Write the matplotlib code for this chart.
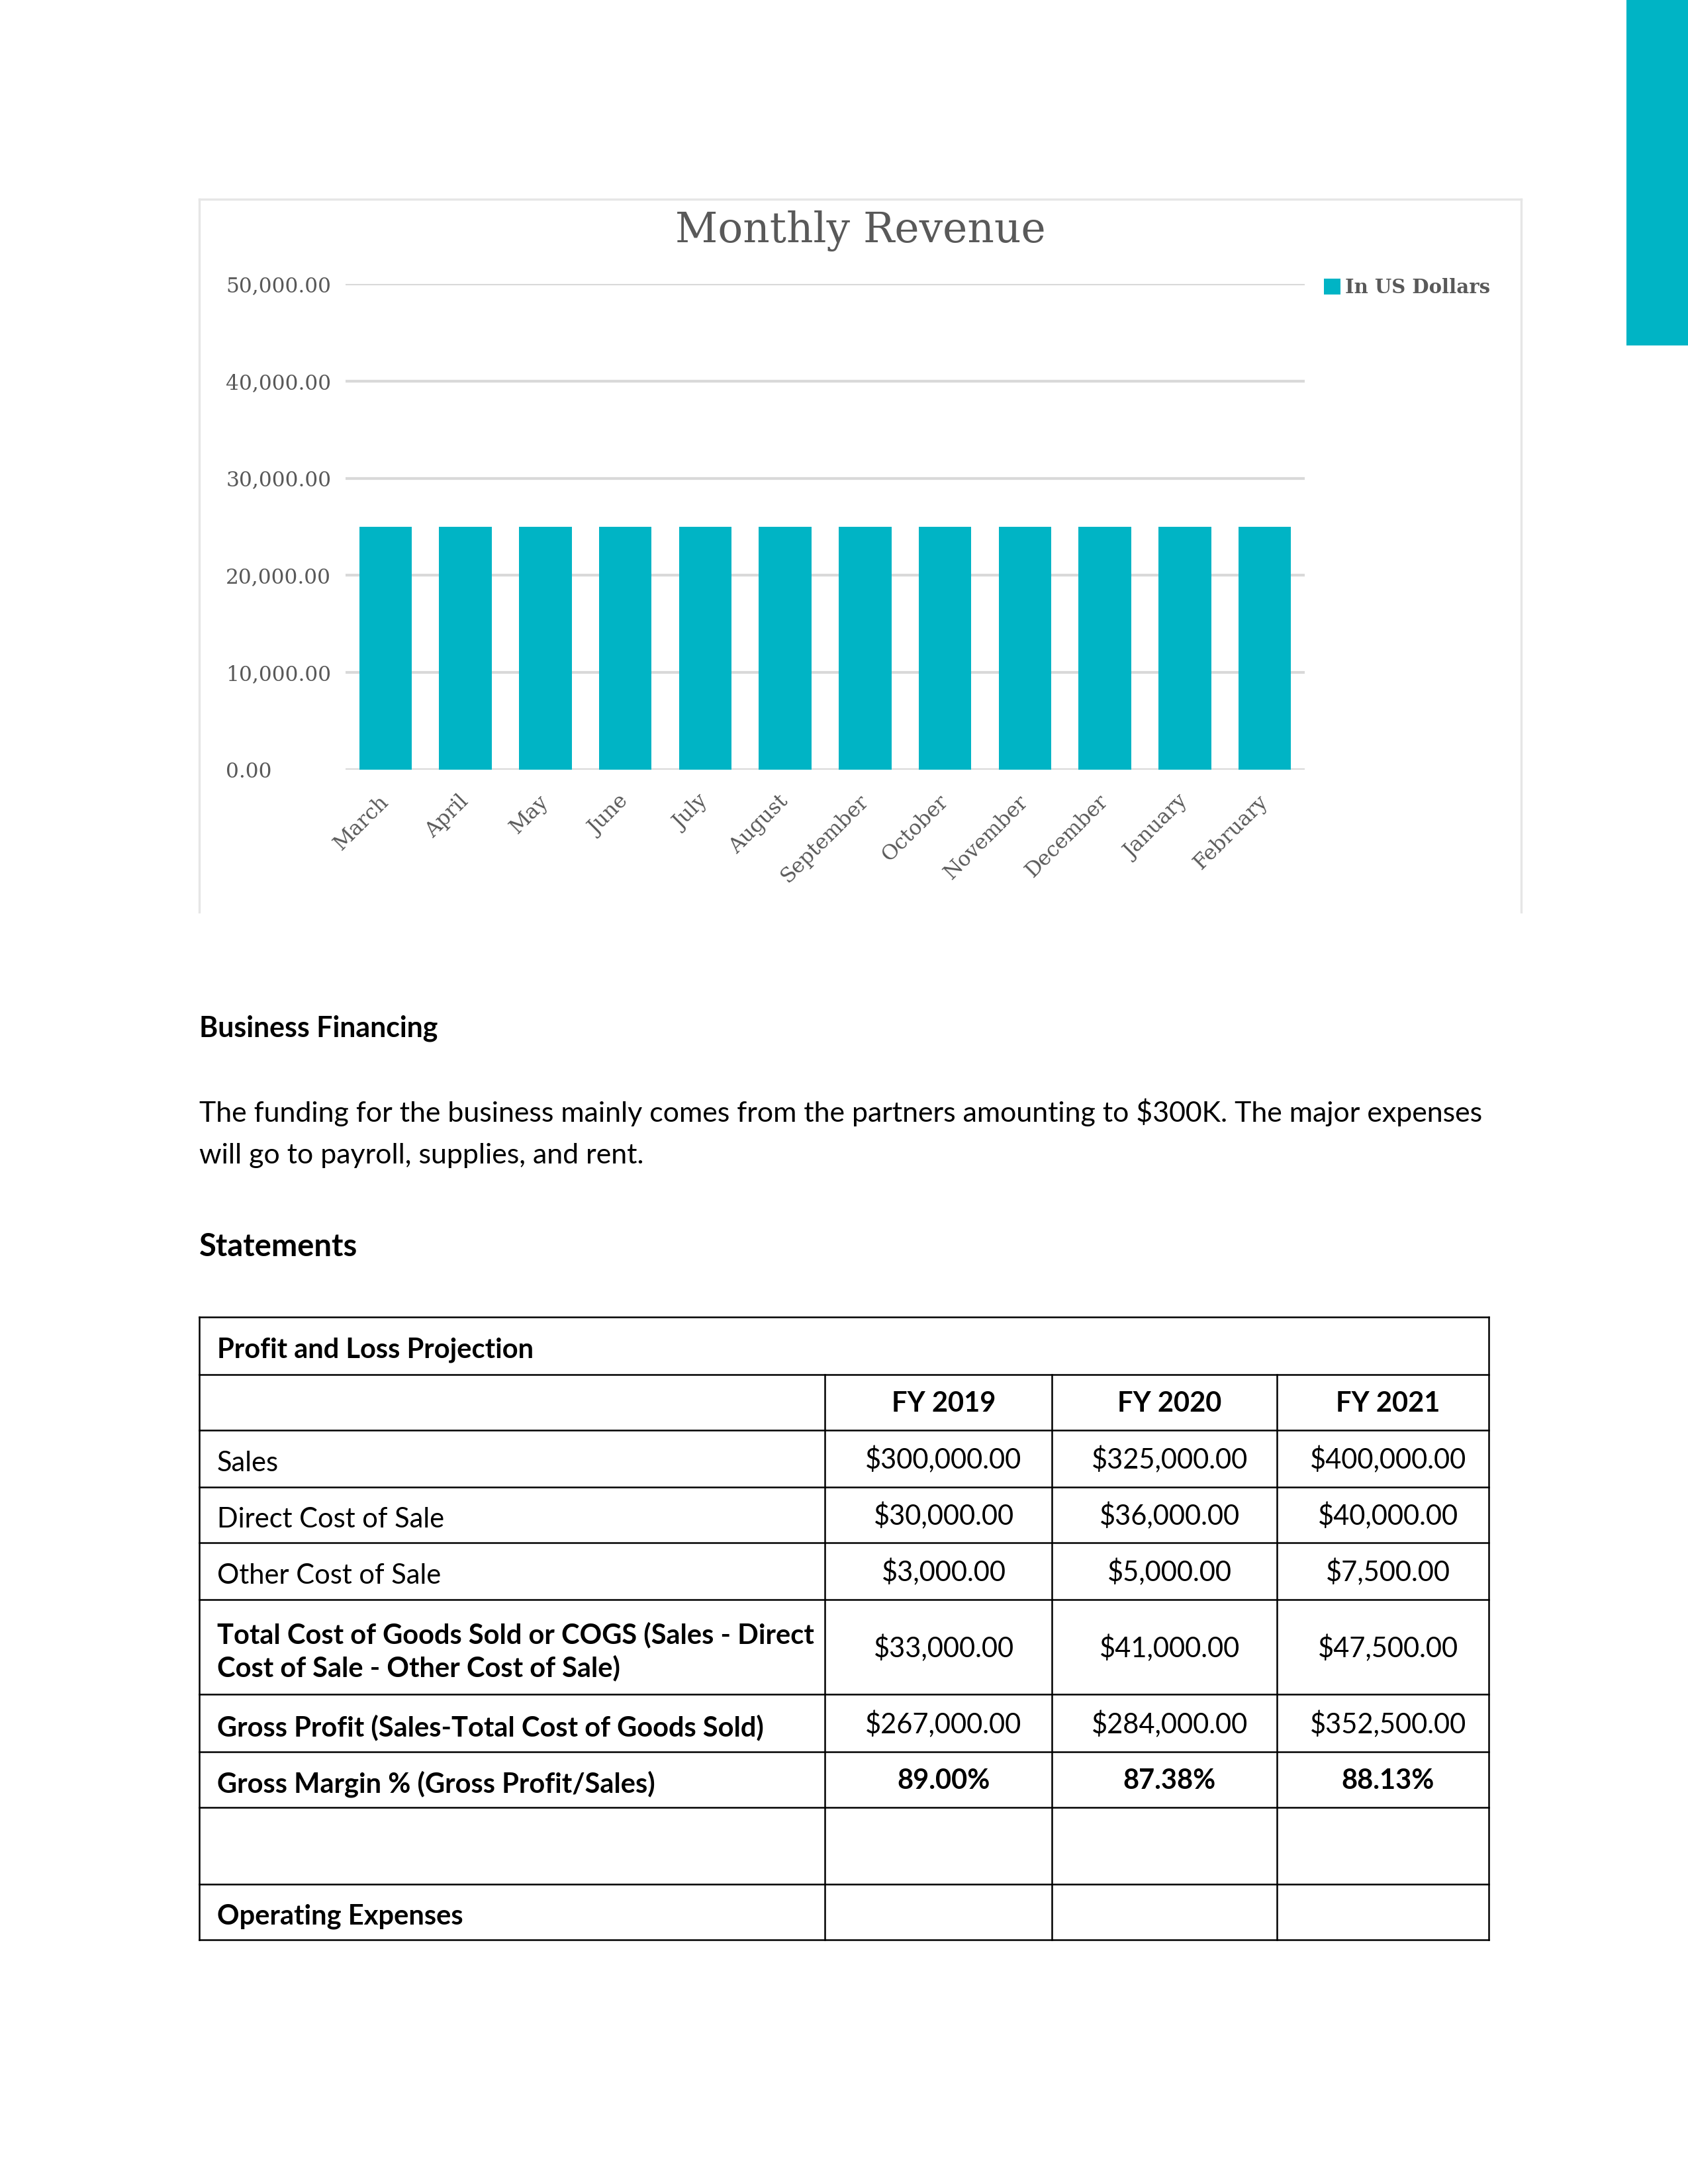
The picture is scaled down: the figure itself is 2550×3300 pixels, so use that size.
import matplotlib
matplotlib.use("Agg")
import matplotlib.pyplot as plt
from matplotlib.lines import Line2D
from matplotlib.patches import Rectangle

# chart data
months = ["March", "April", "May", "June", "July", "August", "September",
          "October", "November", "December", "January", "February"]
revenue = [25000, 25000, 25000, 25000, 25000, 25000, 25000,
           25000, 25000, 25000, 25000, 25000]
y_ticks = [0, 10000, 20000, 30000, 40000, 50000]
series_name = "In US Dollars"

# table data
table_title = "Profit and Loss Projection"
year_labels = ["FY 2019", "FY 2020", "FY 2021"]
row_labels = ["Sales", "Direct Cost of Sale", "Other Cost of Sale",
              "Total Cost of Goods Sold or COGS (Sales - Direct\nCost of Sale - Other Cost of Sale)",
              "Gross Profit (Sales-Total Cost of Goods Sold)",
              "Gross Margin % (Gross Profit/Sales)",
              "",
              "Operating Expenses"]
fy2019 = ["$300,000.00", "$30,000.00", "$3,000.00", "$33,000.00", "$267,000.00", "89.00%", "", ""]
fy2020 = ["$325,000.00", "$36,000.00", "$5,000.00", "$41,000.00", "$284,000.00", "87.38%", "", ""]
fy2021 = ["$400,000.00", "$40,000.00", "$7,500.00", "$47,500.00", "$352,500.00", "88.13%", "", ""]
bold_labels = [False, False, False, True, True, True, False, True]
bold_values = [False, False, False, False, False, True, False, False]

TEAL = "#00B4C5"
GRAY_TEXT = "#595959"
GRID = "#D9D9D9"
BODY_FONT = "Lato"
CHART_FONT = "DejaVu Serif"

W, H = 2550, 3300
fig = plt.figure(figsize=(8.5, 11), dpi=300)

# page layer in pixel coordinates
page = fig.add_axes([0, 0, 1, 1])
page.set_xlim(0, W)
page.set_ylim(H, 0)
page.axis("off")

# teal tab in the top right corner
page.add_patch(Rectangle((2457, 0), W - 2457, 522, color=TEAL, lw=0))

# chart frame (top, left, right)
frame_x0, frame_x1, frame_y0, frame_y1 = 301, 2298, 301, 1378
page.add_line(Line2D([frame_x0, frame_x1], [frame_y0, frame_y0], color="#E6E6E6", lw=0.8))
page.add_line(Line2D([frame_x0, frame_x0], [frame_y0, frame_y1], color="#E6E6E6", lw=0.8))
page.add_line(Line2D([frame_x1, frame_x1], [frame_y0, frame_y1], color="#E6E6E6", lw=0.8))
page.text((frame_x0 + frame_x1) / 2, 349, "Monthly Revenue", ha="center", va="center",
          fontsize=15.1, color=GRAY_TEXT, family=CHART_FONT)

# bar chart
ax = fig.add_axes([522 / W, 1 - 1163 / H, 1449 / W, 734 / H])
bars = ax.bar(range(len(months)), revenue, width=0.66, color=TEAL, label=series_name, zorder=3)
ax.set_xlim(-0.5, len(months) - 0.5)
ax.set_ylim(0, 50000)
ax.set_yticks(y_ticks)
ax.set_yticklabels([f"{v:,.2f}" for v in y_ticks], ha="left", family=CHART_FONT,
                   fontsize=7.5, color=GRAY_TEXT)
ax.tick_params(axis="y", length=0, pad=43.4)
ax.set_xticks(range(len(months)))
ax.set_xticklabels(months, rotation=45, ha="right", va="center", rotation_mode="anchor",
                   family=CHART_FONT, fontsize=7.5, color=GRAY_TEXT)
ax.tick_params(axis="x", length=0, pad=10.5)
ax.grid(axis="y", color=GRID, lw=1.0, zorder=0)
ax.set_axisbelow(True)
for s in ax.spines.values():
    s.set_visible(False)
ax.legend(handles=[bars], labels=[series_name], loc="upper left",
          bbox_to_anchor=(2000 / W, 1 - 420 / H), bbox_transform=fig.transFigure,
          frameon=False, handlelength=0.85, handleheight=0.85, handletextpad=0.25,
          borderpad=0, borderaxespad=0,
          prop={"family": CHART_FONT, "weight": "bold", "size": 7})
for t in ax.get_legend().get_texts():
    t.set_color(GRAY_TEXT)

# body text
fs_body = 10.3
page.text(301, 1554, "Business Financing", fontsize=fs_body, weight="bold", family=BODY_FONT,
          va="center")
page.text(301, 1681, "The funding for the business mainly comes from the partners amounting to "
          "$300K. The major expenses", fontsize=fs_body, family=BODY_FONT, va="center")
page.text(301, 1746, "will go to payroll, supplies, and rent.", fontsize=fs_body,
          family=BODY_FONT, va="center")
page.text(301, 1884, "Statements", fontsize=11.3, weight="bold", family=BODY_FONT, va="center")

# table layout
tx0, tx1 = 301, 2249
col_x = [301, 1246, 1589, 1929, 2249]
row_y = [1990, 2077, 2161, 2247, 2331, 2417, 2560, 2647, 2731, 2847, 2931]
lw_t = 0.6

for y in row_y:
    page.add_line(Line2D([tx0, tx1], [y, y], color="black", lw=lw_t))
page.add_line(Line2D([tx0, tx0], [row_y[0], row_y[-1]], color="black", lw=lw_t))
page.add_line(Line2D([tx1, tx1], [row_y[0], row_y[-1]], color="black", lw=lw_t))
for x in col_x[1:4]:
    page.add_line(Line2D([x, x], [row_y[1], row_y[-1]], color="black", lw=lw_t))

fs_t = 10.0
page.text(328, (row_y[0] + row_y[1]) / 2 + 6, table_title, fontsize=fs_t, weight="bold",
          family=BODY_FONT, va="center")
hy = (row_y[1] + row_y[2]) / 2 + 2
for i, lab in enumerate(year_labels):
    cx = (col_x[i + 1] + col_x[i + 2]) / 2 + 8
    page.text(cx, hy, lab, fontsize=fs_t, weight="bold", family=BODY_FONT,
              ha="center", va="center")

for r, lab in enumerate(row_labels):
    top, bot = row_y[r + 2], row_y[r + 3]
    cy = (top + bot) / 2
    page.text(328, cy + 7, lab, fontsize=fs_t, family=BODY_FONT, va="center",
              weight="bold" if bold_labels[r] else "normal", linespacing=1.3)
    for i, vals in enumerate([fy2019, fy2020, fy2021]):
        cx = (col_x[i + 1] + col_x[i + 2]) / 2 + 8
        page.text(cx, cy + 2, vals[r], fontsize=fs_t, family=BODY_FONT, ha="center",
                  va="center", weight="bold" if bold_values[r] else "normal")

fig.savefig("out.png", dpi=300)
